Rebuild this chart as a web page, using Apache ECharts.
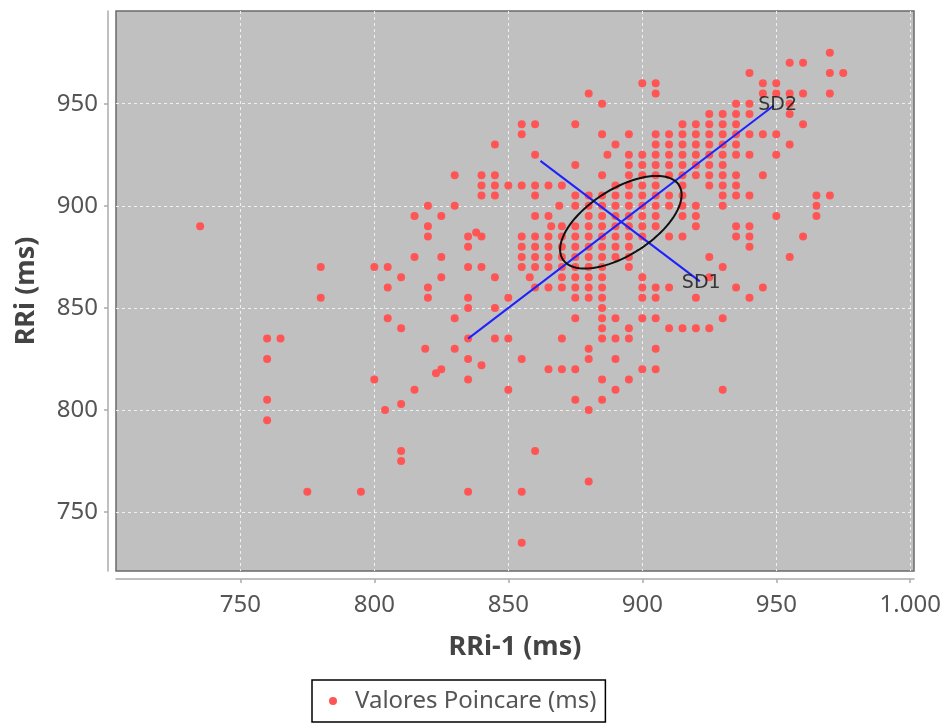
<!DOCTYPE html>
<html>
<head>
<meta charset="utf-8">
<script src="https://cdn.jsdelivr.net/npm/echarts@6/dist/echarts.min.js"></script>
<style>
  html, body { margin: 0; padding: 0; background: #fff; }
  #chart { width: 945px; height: 725px; }
</style>
</head>
<body>
<div id="chart"></div>
<script>
// RRi (eixo y) -> lista de RRi-1 (eixo x) naquela linha
const rriLevels = [975, 970, 965, 960, 955, 950, 945, 940, 935, 930, 925, 920, 915, 910, 905, 900, 895, 890, 887, 885, 880, 875, 870, 865, 860, 855, 850, 845, 840, 835, 830, 825, 822, 820, 818, 815, 810, 805, 803, 800, 795, 780, 775, 765, 760, 735]
const rriPrev = [
  [970],
  [955, 960],
  [940, 970, 975],
  [900, 905, 945, 950],
  [880, 905, 945, 950, 955, 960, 970],
  [885, 935, 940, 955],
  [925, 930, 935, 940, 955],
  [855, 860, 875, 915, 920, 925, 930, 935, 960],
  [855, 885, 895, 905, 910, 915, 920, 925, 930, 935, 940, 945, 950],
  [845, 890, 905, 910, 915, 920, 925, 930, 935, 955],
  [860, 887, 895, 900, 905, 910, 915, 920, 925, 930, 935, 940, 950],
  [875, 895, 900, 905, 910, 915, 920, 925, 930],
  [830, 840, 845, 885, 895, 900, 905, 910, 915, 920, 925, 930, 935, 945],
  [840, 845, 850, 855, 860, 865, 870, 890, 895, 900, 905, 915, 925, 930, 935],
  [840, 845, 860, 875, 880, 885, 890, 895, 900, 905, 910, 915, 930, 935, 940, 965, 970],
  [820, 830, 869, 875, 880, 885, 890, 895, 900, 905, 910, 915, 920, 930, 965],
  [815, 825, 860, 865, 880, 885, 890, 895, 900, 905, 915, 920, 950, 965],
  [735, 820, 866, 870, 875, 880, 885, 890, 895, 900, 905, 920, 935, 940],
  [838],
  [820, 835, 840, 855, 860, 865, 870, 875, 880, 885, 890, 895, 900, 910, 915, 935, 940, 960],
  [835, 855, 860, 865, 870, 875, 880, 885, 890, 895, 940],
  [815, 825, 855, 860, 865, 870, 875, 880, 885, 890, 895, 925, 955],
  [780, 800, 805, 835, 840, 855, 860, 865, 870, 875, 880, 885, 895, 930],
  [810, 825, 845, 858, 870, 875, 880, 885, 900, 925],
  [805, 820, 860, 865, 870, 875, 880, 885, 900, 905, 910, 935, 945],
  [780, 820, 835, 850, 875, 880, 885, 900, 905, 920, 940],
  [835, 845, 885],
  [805, 830, 875, 885, 890, 900, 905, 930],
  [810, 885, 895, 910, 915, 920, 925],
  [760, 765, 835, 845, 850, 870, 885, 890, 895],
  [819, 830, 880, 905],
  [760, 835, 855, 880, 890],
  [840],
  [825, 865, 870, 875, 900, 905],
  [823],
  [800, 835, 885, 895],
  [815, 850, 890, 930],
  [760, 875, 885],
  [810],
  [804, 880],
  [760],
  [810, 860],
  [810],
  [880],
  [775, 795, 835, 855],
  [855]
]

// elipse e eixos SD1 / SD2
const centro = [892, 892]
const sd1 = 14.5
const sd2 = 28.6
const linhaSD1 = [[862, 922], [921.5, 863]]
const linhaSD2 = [[835, 835], [949, 949]]
const rotulosSD = [{ name: 'SD1', value: [922, 862] }, { name: 'SD2', value: [950.5, 949.5] }]

const xTicks = [750, 800, 850, 900, 950, 1000]
const yTicks = [750, 800, 850, 900, 950]

var pontos = []
for (var i = 0; i < rriLevels.length; i++) {
  for (var j = 0; j < rriPrev[i].length; j++) {
    pontos.push([rriPrev[i][j], rriLevels[i]])
  }
}

var chart = echarts.init(document.getElementById('chart'))
var fonte = 'Noto Sans'
var corEixo = '#ababab'

var option = {
  animation: false,
  grid: {
    left: 116, right: 31, top: 11, bottom: 154,
    show: true,
    backgroundColor: '#c0c0c0',
    borderColor: '#6a6a6a',
    borderWidth: 1.5
  },
  legend: {
    data: ['Valores Poincare (ms)'],
    left: 312,
    top: 680,
    icon: 'circle',
    itemWidth: 8,
    itemHeight: 8,
    padding: [9, 9, 9, 17],
    borderColor: '#000',
    borderWidth: 1.5,
    borderRadius: 0,
    textStyle: { fontFamily: fonte, fontSize: 24, color: '#555', padding: [0, 0, 0, 13] }
  },
  xAxis: {
    type: 'value',
    min: 703.6,
    max: 1001.4,
    offset: 8,
    name: 'RRi-1 (ms)',
    nameLocation: 'middle',
    nameGap: 55,
    nameTextStyle: { fontFamily: fonte, fontSize: 27, fontWeight: 'bold', color: '#444' },
    axisLine: { show: true, lineStyle: { color: corEixo, width: 1.5 } },
    axisTick: { show: true, length: 4, customValues: xTicks, lineStyle: { color: corEixo, width: 1.5 } },
    axisLabel: {
      customValues: xTicks,
      margin: 14,
      fontFamily: fonte, fontSize: 24, color: '#555',
      formatter: function (v) { return String(v).replace(/\B(?=(\d{3})+(?!\d))/g, '.') }
    },
    splitLine: { show: true, lineStyle: { color: '#f0f0f0', type: [3, 3], width: 1 } }
  },
  yAxis: {
    type: 'value',
    min: 721.2,
    max: 995.4,
    offset: 8,
    name: 'RRi (ms)',
    nameLocation: 'middle',
    nameGap: 68,
    nameTextStyle: { fontFamily: fonte, fontSize: 27, fontWeight: 'bold', color: '#444' },
    axisLine: { show: true, lineStyle: { color: corEixo, width: 1.5 } },
    axisTick: { show: true, length: 4, customValues: yTicks, lineStyle: { color: corEixo, width: 1.5 } },
    axisLabel: { customValues: yTicks, margin: 10, fontFamily: fonte, fontSize: 24, color: '#555' },
    splitLine: { show: true, lineStyle: { color: '#f0f0f0', type: [3, 3], width: 1 } }
  },
  series: [
    {
      name: 'Valores Poincare (ms)',
      type: 'scatter',
      symbolSize: 8,
      itemStyle: { color: '#ff5555', opacity: 1 },
      data: pontos,
      z: 2
    },
    {
      name: 'SD2',
      type: 'line',
      data: linhaSD2,
      showSymbol: false,
      lineStyle: { color: '#2020ff', width: 2 },
      z: 3
    },
    {
      name: 'SD1',
      type: 'line',
      data: linhaSD1,
      showSymbol: false,
      lineStyle: { color: '#2020ff', width: 2 },
      z: 3
    },
    {
      name: 'elipse',
      type: 'custom',
      data: [[centro[0], centro[1], sd1, sd2]],
      renderItem: function (params, api) {
        var cx = api.value(0), cy = api.value(1), a = api.value(3), b = api.value(2)
        var pts = []
        for (var k = 0; k <= 90; k++) {
          var t = k / 90 * Math.PI * 2
          var u = a * Math.cos(t), w = b * Math.sin(t)
          pts.push(api.coord([cx + (u - w) / Math.SQRT2, cy + (u + w) / Math.SQRT2]))
        }
        return {
          type: 'polygon',
          shape: { points: pts },
          style: { fill: 'none', stroke: '#111', lineWidth: 2 }
        }
      },
      z: 4
    },
    {
      name: 'rotulos',
      type: 'scatter',
      data: rotulosSD,
      symbolSize: 1,
      itemStyle: { color: 'rgba(0,0,0,0)' },
      label: {
        show: true,
        position: 'inside',
        formatter: '{b}',
        fontFamily: 'DejaVu Sans',
        fontSize: 19,
        color: '#111'
      },
      z: 5
    }
  ]
}
chart.setOption(option)
</script>
</body>
</html>
